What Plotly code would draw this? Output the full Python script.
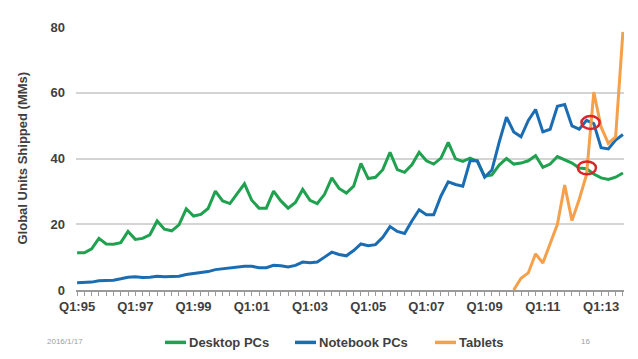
import plotly.graph_objects as go

years = ["95","96","97","98","99","00","01","02","03","04","05","06","07","08","09","10","11","12","13"]
quarters = [f"Q{q}:{y}" for y in years for q in (1, 2, 3, 4)]

desktop = [11.3, 11.3, 12.5, 15.7, 14.0, 13.9, 14.4, 17.8, 15.4, 15.7, 16.8, 21.0,
           18.5, 18.0, 19.8, 24.7, 22.5, 23.0, 24.8, 30.1, 27.1, 26.3, 29.3, 32.3,
           27.3, 24.9, 24.9, 30.1, 27.1, 24.9, 26.6, 30.6, 27.3, 26.3, 29.1, 34.1,
           30.9, 29.5, 31.6, 38.5, 33.9, 34.3, 36.6, 41.9, 36.6, 35.8, 38.1, 41.9,
           39.3, 38.3, 40.1, 44.9, 39.9, 39.1, 40.1, 39.1, 34.6, 35.0, 38.0, 40.0,
           38.3, 38.6, 39.3, 40.9, 37.3, 38.3, 40.6, 39.6, 38.6, 37.1, 36.9, 35.3,
           34.1, 33.6, 34.3, 35.6]

notebook = [2.2, 2.2, 2.4, 2.8, 2.8, 3.0, 3.4, 3.9, 4.0, 3.8, 3.9, 4.2,
            4.0, 4.0, 4.2, 4.7, 5.0, 5.1, 5.6, 6.2, 6.5, 6.7, 7.0, 7.2,
            7.2, 6.8, 6.8, 7.5, 7.4, 7.0, 7.5, 8.5, 8.3, 8.5, 10.0, 11.5,
            10.8, 10.4, 12.0, 14.0, 13.5, 13.8, 16.0, 19.3, 17.8, 17.2, 21.0, 24.4,
            22.9, 22.9, 28.6, 32.9, 32.1, 31.6, 39.3, 39.3, 34.3, 36.5, 45.0, 52.6,
            48.1, 46.6, 51.6, 54.9, 48.1, 48.9, 55.9, 56.4, 49.9, 48.9, 51.6, 50.6,
            43.3, 42.9, 45.6, 47.3]

tablets = [None] * 60 + [0.0, 3.6, 5.2, 11.0, 8.2, 14.2, 20.0, 31.9, 21.1, 27.6,
                         35.1, 60.2, 49.6, 44.6, 46.6, 78.5]

tick_labels = [q if i % 8 == 0 else "" for i, q in enumerate(quarters)]

series_names = ["Desktop PCs", "Notebook PCs", "Tablets"]
series_values = [desktop, notebook, tablets]
series_colors = ["#1fa14f", "#1a6db3", "#f5a04a"]

fig = go.Figure()
for name, vals, col in zip(series_names, series_values, series_colors):
    fig.add_trace(go.Scatter(x=quarters, y=vals, name=name, mode="lines",
                             line=dict(color=col, width=3), connectgaps=False,
                             showlegend=False))

txt = "#3f3f3f"
# page body has an 8px margin, so the figure is 8px smaller and shifted
fig.update_layout(
    width=630, height=351,
    margin=dict(l=68, r=14, t=16, b=69),
    paper_bgcolor="white", plot_bgcolor="white",
    font=dict(family="Liberation Sans, Arial, sans-serif", color=txt),
    showlegend=False,
    xaxis=dict(type="category", range=[-0.15, 75.15], tickmode="array",
               tickvals=quarters, ticktext=tick_labels, ticks="outside", ticklen=4,
               tickcolor="#9a9a9a", tickwidth=1, showgrid=False, showline=True,
               linecolor="#9a9a9a", linewidth=1.5,
               tickfont=dict(size=13, weight="bold", color=txt), tickangle=0),
    yaxis=dict(range=[0, 80], tickvals=[0, 20, 40, 60, 80], showgrid=True,
               gridcolor="#d4d4d4", gridwidth=1.5, zeroline=False, showline=False,
               ticklabelstandoff=10,
               tickfont=dict(size=13, weight="bold", color=txt)),
)

# manual legend (paper coords): line sample + label
W, H = 548.0, 266.0
leg_y = -53 / H
leg_starts = [165, 295, 435]
for name, col, px in zip(series_names, series_colors, leg_starts):
    x0 = (px - 76) / W
    x1 = (px + 21 - 76) / W
    fig.add_shape(type="line", xref="paper", yref="paper", x0=x0, x1=x1, y0=leg_y, y1=leg_y,
                  line=dict(color=col, width=3.5))
    fig.add_annotation(text=name, xref="paper", yref="paper", x=x1 + 1 / W, y=leg_y,
                       xanchor="left", yanchor="middle", showarrow=False,
                       font=dict(size=13, weight="bold", color=txt))

# y-axis title
fig.add_annotation(text="Global Units Shipped (MMs)", textangle=-90, xref="paper", yref="paper",
                   x=-54 / W, y=0.5, xanchor="center", yanchor="middle", showarrow=False,
                   font=dict(size=13, weight="bold", color=txt))
# footer texts
fig.add_annotation(text="2016/1/17", xref="paper", yref="paper", x=-11 / W, y=-52 / H,
                   xanchor="center", yanchor="middle", showarrow=False,
                   font=dict(size=8, color="#a0a0a0"))
fig.add_annotation(text="16", xref="paper", yref="paper", x=509 / W, y=-52 / H,
                   xanchor="center", yanchor="middle", showarrow=False,
                   font=dict(size=8, color="#a0a0a0"))

# red highlight ellipses
fig.add_shape(type="circle", xref="x", yref="y", x0=69.3, x1=71.8, y0=49.0, y1=52.9,
              line=dict(color="#d8262b", width=2.5))
fig.add_shape(type="circle", xref="x", yref="y", x0=68.8, x1=71.3, y0=35.2, y1=39.1,
              line=dict(color="#d8262b", width=2.5))

fig.write_html("out.html")
